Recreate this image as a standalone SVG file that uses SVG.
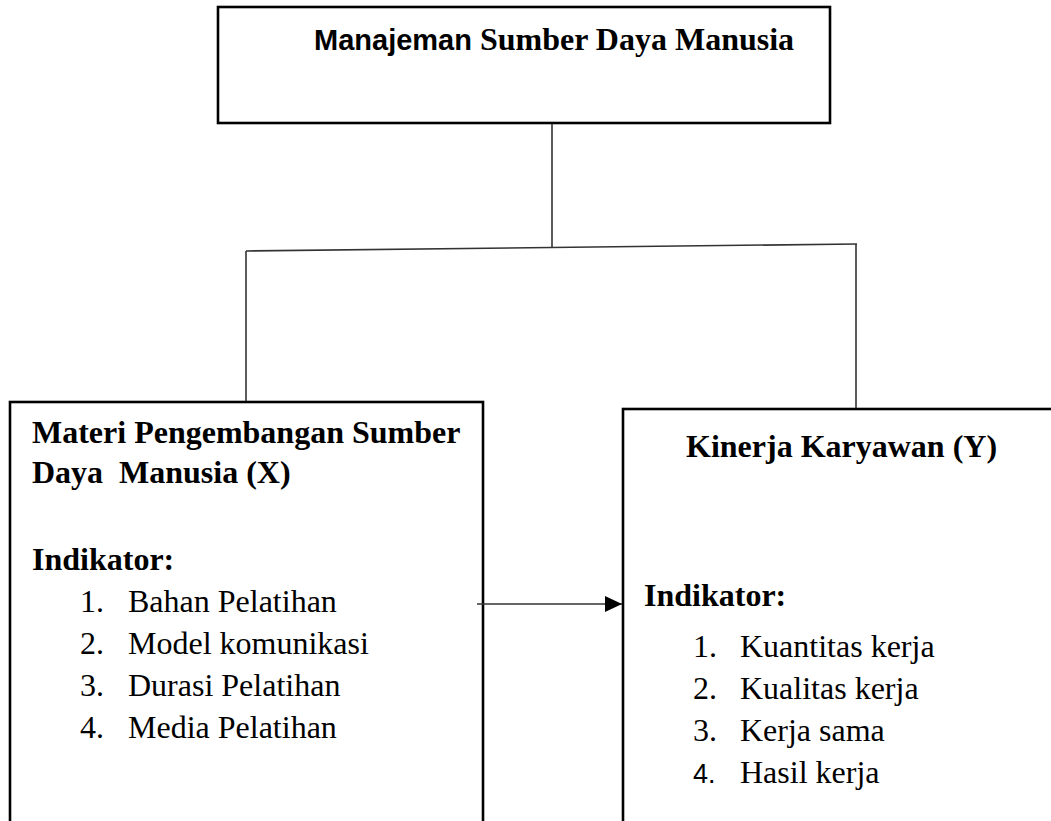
<svg xmlns="http://www.w3.org/2000/svg" width="1051" height="821" viewBox="0 0 1051 821">
<defs>
<style>
.box{fill:#fff;stroke:#000;stroke-width:2.6}
.con{fill:none;stroke:#333;stroke-width:1.6}
.t{font-family:"Liberation Serif","Times New Roman",serif;font-size:32px;fill:#000}
.b{font-weight:bold}
.s{font-family:"Liberation Sans",Arial,sans-serif}
</style>
<marker id="arr" markerWidth="19" markerHeight="18" refX="17" refY="9" orient="auto" markerUnits="userSpaceOnUse">
<path d="M0,1 L17,9 L0,17 Z" fill="#000"/>
</marker>
</defs>
<rect width="1051" height="821" fill="#fff"/>
<g id="node-msdm">
<rect class="box" x="218" y="7" width="612" height="116"/>
<text class="t b" x="314" y="50"><tspan class="s" font-size="29">Manajeman</tspan> Sumber Daya Manusia</text>
</g>
<g id="node-x">
<rect class="box" x="10" y="402" width="473" height="430"/>
<text class="t b" x="32" y="443">Materi Pengembangan Sumber</text>
<text class="t b" x="32" y="483">Daya<tspan x="119">Manusia (X)</tspan></text>
<text class="t b" x="32" y="570">Indikator:</text>
<text class="t" x="80" y="612">1.<tspan x="128">Bahan Pelatihan</tspan></text>
<text class="t" x="80" y="654">2.<tspan x="128">Model komunikasi</tspan></text>
<text class="t" x="80" y="696">3.<tspan x="128">Durasi Pelatihan</tspan></text>
<text class="t" x="80" y="738">4.<tspan x="128">Media Pelatihan</tspan></text>
</g>
<g id="node-y">
<rect class="box" x="623" y="409" width="440" height="430"/>
<text class="t b" x="686" y="457">Kinerja Karyawan (Y)</text>
<text class="t b" x="644" y="606">Indikator:</text>
<text class="t" x="693" y="657">1.<tspan x="740">Kuantitas kerja</tspan></text>
<text class="t" x="693" y="699">2.<tspan x="740">Kualitas kerja</tspan></text>
<text class="t" x="693" y="741">3.<tspan x="740">Kerja sama</tspan></text>
<text class="t" x="693" y="783"><tspan class="s" font-size="27">4.</tspan><tspan x="740">Hasil kerja</tspan></text>
</g>
<g id="connectors">
<line class="con" x1="552" y1="124" x2="552" y2="248"/>
<line class="con" x1="246" y1="251" x2="857" y2="244"/>
<line class="con" x1="246" y1="251" x2="246" y2="401"/>
<line class="con" x1="856" y1="244" x2="856" y2="408"/>
<line class="con" x1="477" y1="604" x2="622" y2="604" marker-end="url(#arr)"/>
</g>
</svg>
